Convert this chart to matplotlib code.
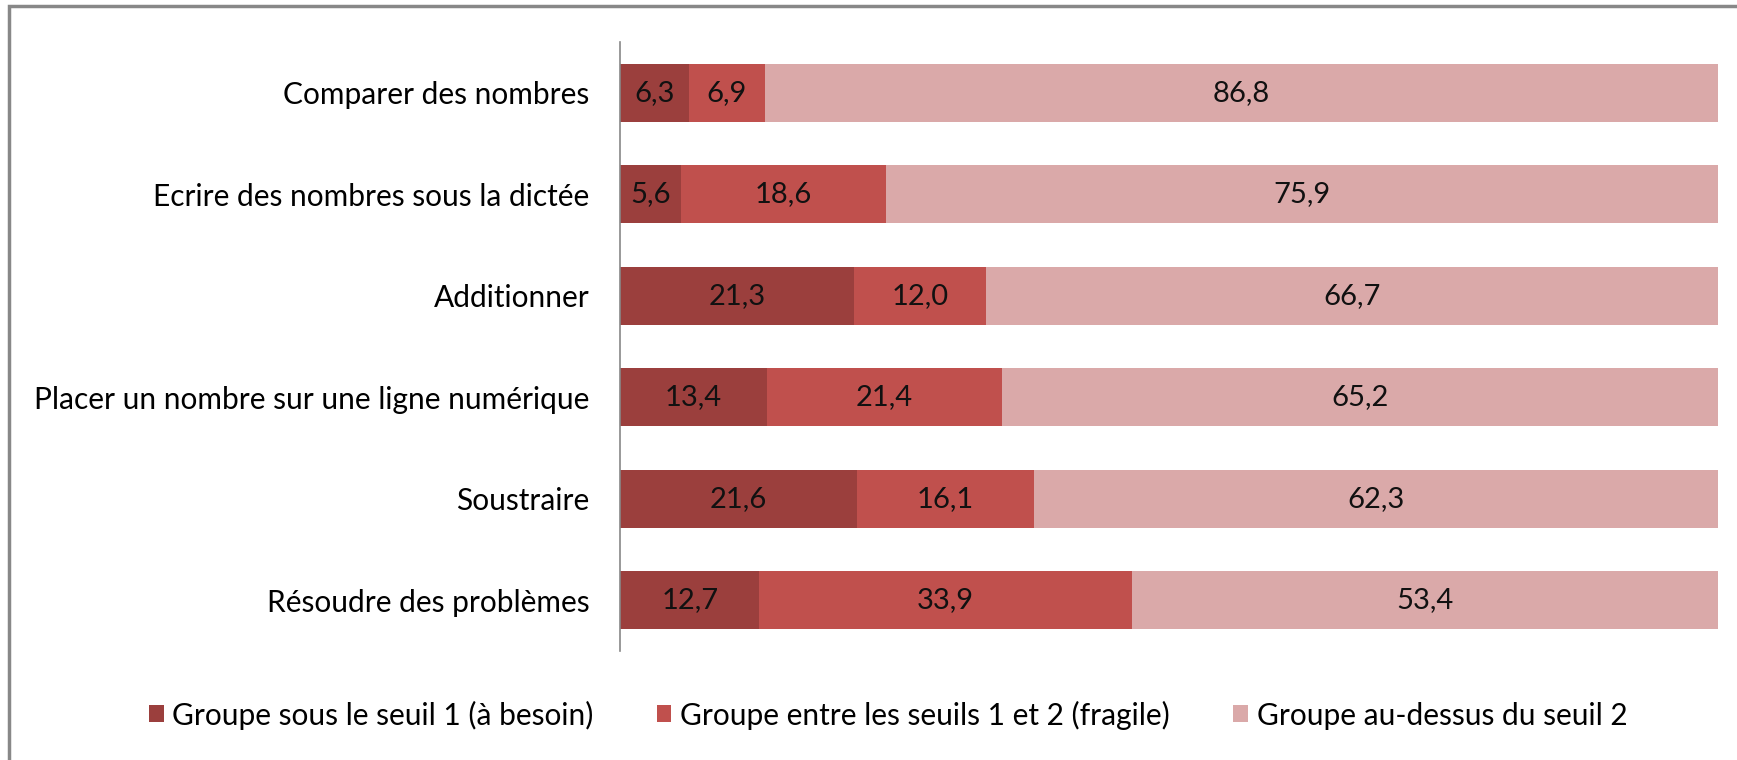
import matplotlib.pyplot as plt
from matplotlib.patches import Rectangle

plt.rcParams['font.family'] = ['Lato', 'DejaVu Sans']

categories = ["Comparer des nombres", "Ecrire des nombres sous la dictée", "Additionner",
              "Placer un nombre sur une ligne numérique", "Soustraire", "Résoudre des problèmes"]
seuil1 = [6.3, 5.6, 21.3, 13.4, 21.6, 12.7]
fragile = [6.9, 18.6, 12.0, 21.4, 16.1, 33.9]
dessus = [86.8, 75.9, 66.7, 65.2, 62.3, 53.4]
series_names = ["Groupe sous le seuil 1 (à besoin)", "Groupe entre les seuils 1 et 2 (fragile)",
                "Groupe au-dessus du seuil 2"]
colors = ["#9B3F3D", "#C0504D", "#DAA9A9"]

fig = plt.figure(figsize=(17.37, 7.6), dpi=100)
ax = fig.add_axes([620 / 1737, 1 - 651 / 760, (1718 - 620) / 1737, (651 - 42) / 760])

ypos = list(range(len(categories)))
left = [0] * len(categories)
for vals, col, name in zip([seuil1, fragile, dessus], colors, series_names):
    ax.barh(ypos, vals, left=left, height=0.57, color=col, label=name)
    for y, l, v in zip(ypos, left, vals):
        ax.text(l + v / 2, y, f"{v:.1f}".replace(".", ","), ha="center", va="center",
                fontsize=21, color="#111111")
    left = [a + b for a, b in zip(left, vals)]

ax.set_xlim(0, 100)
ax.set_ylim(len(categories) - 0.5, -0.5)
ax.set_yticks(ypos)
ax.set_yticklabels(categories, fontsize=21.5)
ax.tick_params(axis="y", length=0, pad=22)
ax.set_xticks([])
for s in ["top", "right", "bottom"]:
    ax.spines[s].set_visible(False)
ax.spines["left"].set_color("#888888")
ax.spines["left"].set_linewidth(1.2)

fig.legend(loc="center", bbox_to_anchor=(888 / 1737, 1 - 715 / 760), ncol=3, frameon=False,
           fontsize=21.5, handlelength=0.5, handleheight=0.5, handletextpad=0.3,
           columnspacing=2.1)

fig.patches.append(Rectangle((9 / 1737, -0.05), 1.1, 1.05 - 6 / 760, transform=fig.transFigure,
                             fill=False, edgecolor="#888888", linewidth=2.5))

fig.savefig("out.png", dpi=100)
